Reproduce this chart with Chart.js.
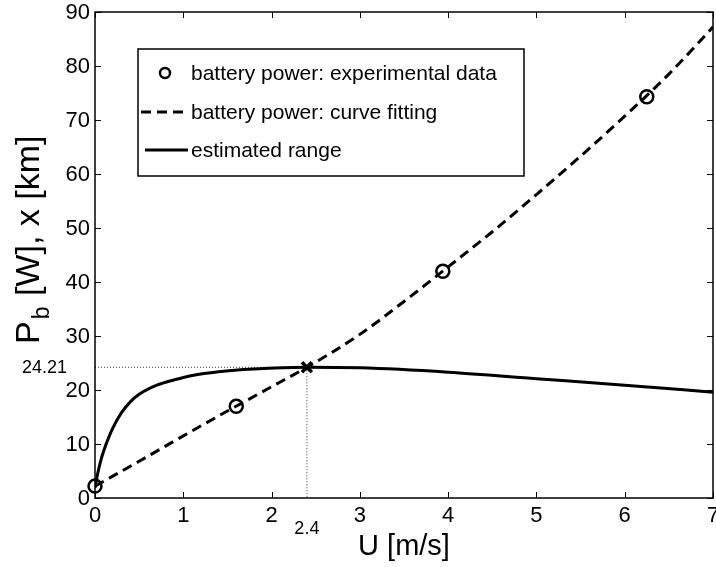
<!DOCTYPE html>
<html>
<head>
<meta charset="utf-8">
<script src="https://cdn.jsdelivr.net/npm/chart.js@4.4.1/dist/chart.umd.min.js"></script>
<style>
    body { margin: 0; background: #fff; }
    canvas { display: block; }
</style>
</head>
<body>
<canvas id="rangeChart" width="716" height="567"></canvas>
<script>
// Experimental battery power points
const expU = [0, 1.6, 3.94, 6.25];
const expP = [2.2, 17.0, 42.0, 74.3];

// Battery power, curve fitting
const fitU = [0, 0.5, 1, 1.5, 2, 2.4, 3, 3.5, 4, 4.5, 5, 5.5, 6, 6.5, 7];
const fitP = [2.2, 6.8, 11.5, 16.1, 20.6, 24.21, 30.3, 36.4, 42.8, 49.3, 56.2, 63.3, 70.7, 78.5, 87.2];

// Estimated range (solid line)
const rangeU = [0, 0.03, 0.07, 0.1, 0.15, 0.2, 0.3, 0.4, 0.5, 0.7, 0.9, 1.1, 1.4, 1.8, 2.4, 3, 4, 5, 6, 7];
const rangeX = [1.9, 4.5, 7.2, 8.8, 11.0, 12.9, 15.8, 17.8, 19.2, 20.9, 21.9, 22.7, 23.4, 23.9, 24.21, 24.1, 23.3, 22.1, 20.9, 19.6];

// Optimum point
const optU = 2.4;
const optX = 24.21;

// Axis ticks
const xTicks = [0, 1, 2, 3, 4, 5, 6, 7];
const yTicks = [0, 10, 20, 30, 40, 50, 60, 70, 80, 90];

const FONT = '"Liberation Sans", Arial, Helvetica, sans-serif';

const toPoints = (xs, ys) => xs.map((x, i) => ({ x: x, y: ys[i] }));

// Axes box, inward ticks, tick labels, titles and legend (MATLAB look)
const matlabAxes = {
    id: "matlabAxes",
    afterDraw(chart) {
        const ctx = chart.ctx;
        const area = chart.chartArea;
        const xs = chart.scales.x;
        const ys = chart.scales.y;
        const tick = 6;

        ctx.save();
        ctx.strokeStyle = "#000";
        ctx.lineWidth = 1.5;
        ctx.strokeRect(area.left, area.top, area.right - area.left, area.bottom - area.top);

        ctx.lineWidth = 1;
        ctx.beginPath();
        xTicks.forEach(v => {
            const px = Math.round(xs.getPixelForValue(v)) + 0.5;
            ctx.moveTo(px, area.bottom); ctx.lineTo(px, area.bottom - tick);
            ctx.moveTo(px, area.top); ctx.lineTo(px, area.top + tick);
        });
        yTicks.forEach(v => {
            const py = Math.round(ys.getPixelForValue(v)) + 0.5;
            ctx.moveTo(area.left, py); ctx.lineTo(area.left + tick, py);
            ctx.moveTo(area.right, py); ctx.lineTo(area.right - tick, py);
        });
        ctx.stroke();

        ctx.fillStyle = "#000";
        ctx.font = "22px " + FONT;
        ctx.textAlign = "center";
        ctx.textBaseline = "top";
        xTicks.forEach(v => ctx.fillText(String(v), xs.getPixelForValue(v), area.bottom + 7));
        ctx.textAlign = "right";
        ctx.textBaseline = "middle";
        yTicks.forEach(v => ctx.fillText(String(v), area.left - 5, ys.getPixelForValue(v) + 1));

        // optimum labels
        ctx.font = "18px " + FONT;
        ctx.textAlign = "right";
        ctx.fillText(optX.toFixed(2), 67, ys.getPixelForValue(optX) + 1);
        ctx.textAlign = "center";
        ctx.fillText(String(optU), xs.getPixelForValue(optU), area.bottom + 31);

        // x title
        ctx.font = "29px " + FONT;
        ctx.textAlign = "center";
        ctx.textBaseline = "middle";
        ctx.fillText("U [m/s]", (area.left + area.right) / 2, 547);

        // y title with subscript
        ctx.save();
        ctx.translate(39, 344);
        ctx.rotate(-Math.PI / 2);
        ctx.textAlign = "left";
        ctx.textBaseline = "alphabetic";
        ctx.font = "34px " + FONT;
        ctx.fillText("P", 0, 0);
        let w = ctx.measureText("P").width;
        ctx.font = "23px " + FONT;
        ctx.fillText("b", w + 2, 10);
        w += ctx.measureText("b").width + 3;
        ctx.font = "34px " + FONT;
        ctx.fillText(" [W], x [km]", w, 0);
        ctx.restore();

        // legend
        const box = { left: 138, top: 49, right: 524, bottom: 176 };
        ctx.fillStyle = "#fff";
        ctx.fillRect(box.left, box.top, box.right - box.left, box.bottom - box.top);
        ctx.strokeStyle = "#000";
        ctx.lineWidth = 1.5;
        ctx.strokeRect(box.left, box.top, box.right - box.left, box.bottom - box.top);

        const rows = [73, 112, 150];
        const ds = chart.data.datasets;
        ctx.font = "21px " + FONT;
        ctx.textAlign = "left";
        ctx.textBaseline = "middle";
        ctx.fillStyle = "#000";

        // row 1: circle marker
        ctx.lineWidth = 2.5;
        ctx.beginPath();
        ctx.arc(165, rows[0], 5, 0, Math.PI * 2);
        ctx.stroke();
        ctx.fillText(ds[0].label, 191, rows[0] + 1);

        // row 2: dashed line
        ctx.lineWidth = 3;
        ctx.setLineDash(ds[1].borderDash);
        ctx.beginPath();
        ctx.moveTo(141, rows[1]); ctx.lineTo(188, rows[1]);
        ctx.stroke();
        ctx.setLineDash([]);
        ctx.fillText(ds[1].label, 191, rows[1] + 1);

        // row 3: solid line
        ctx.beginPath();
        ctx.moveTo(145, rows[2]); ctx.lineTo(188, rows[2]);
        ctx.stroke();
        ctx.fillText(ds[2].label, 191, rows[2] + 1);

        ctx.restore();
    }
};

const ctx = document.getElementById("rangeChart").getContext("2d");
new Chart(ctx, {
    type: "scatter",
    data: {
        datasets: [
            {
                label: "battery power: experimental data",
                data: toPoints(expU, expP),
                showLine: false,
                pointStyle: "circle",
                pointRadius: 6.5,
                pointBorderWidth: 2.5,
                pointBorderColor: "#000",
                pointBackgroundColor: "rgba(0,0,0,0)",
                clip: false,
                order: 0,
            },
            {
                label: "battery power: curve fitting",
                data: toPoints(fitU, fitP),
                showLine: true,
                borderColor: "#000",
                borderWidth: 3,
                borderDash: [10, 6],
                pointRadius: 0,
                cubicInterpolationMode: "monotone",
                order: 1,
            },
            {
                label: "estimated range",
                data: toPoints(rangeU, rangeX),
                showLine: true,
                borderColor: "#000",
                borderWidth: 3,
                pointRadius: 0,
                cubicInterpolationMode: "monotone",
                order: 1,
            },
            {
                label: "guide h",
                data: [{ x: 0, y: optX }, { x: optU, y: optX }],
                showLine: true,
                borderColor: "#333",
                borderWidth: 1,
                borderDash: [1, 2],
                pointRadius: 0,
                order: 2,
            },
            {
                label: "guide v",
                data: [{ x: optU, y: optX }, { x: optU, y: 0 }],
                showLine: true,
                borderColor: "#333",
                borderWidth: 1,
                borderDash: [1, 2],
                pointRadius: 0,
                order: 2,
            },
            {
                label: "optimum",
                data: [{ x: optU, y: optX }],
                showLine: false,
                pointStyle: "crossRot",
                pointRadius: 7,
                pointBorderWidth: 3.5,
                pointBorderColor: "#000",
                order: 0,
            },
        ],
    },
    options: {
        responsive: false,
        animation: false,
        layout: {
            autoPadding: false,
            padding: { left: 95, top: 12, right: 3, bottom: 69 },
        },
        scales: {
            x: { type: "linear", min: 0, max: 7, display: false },
            y: { type: "linear", min: 0, max: 90, display: false },
        },
        plugins: {
            legend: { display: false },
            tooltip: { enabled: false },
        },
    },
    plugins: [matlabAxes],
});
</script>
</body>
</html>
